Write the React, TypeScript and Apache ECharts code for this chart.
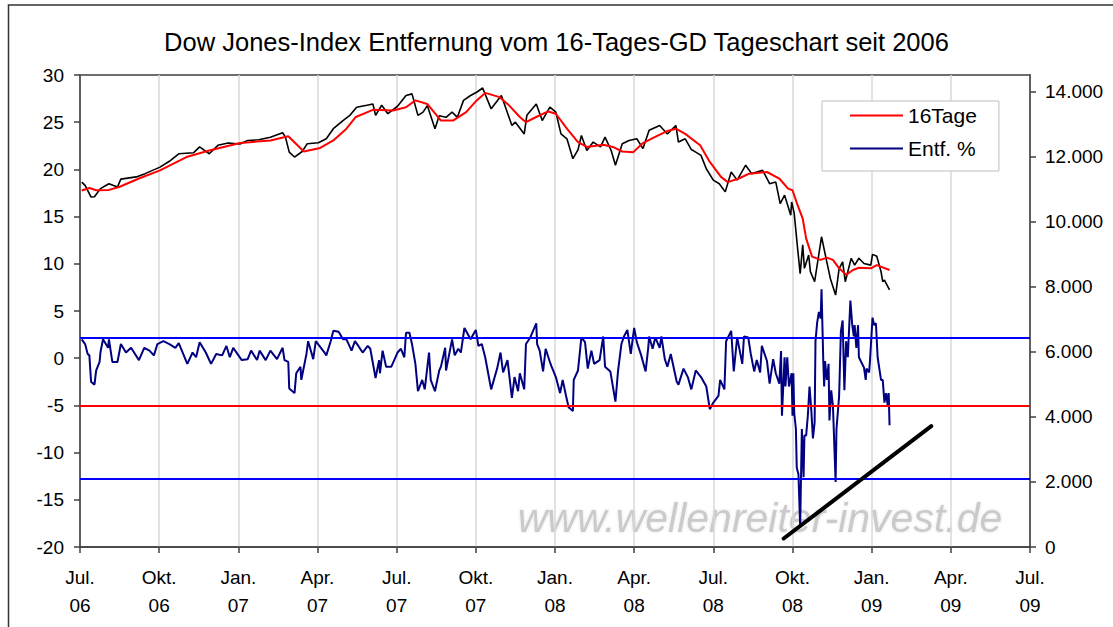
import React, { useEffect, useRef } from "react";
import * as echarts from "echarts";

const titleText = "Dow Jones-Index Entfernung vom 16-Tages-GD Tageschart seit 2006";
const watermarkText = "www.wellenreiter-invest.de";

const quarterLabels = [
  "Jul.\n06", "Okt.\n06", "Jan.\n07", "Apr.\n07", "Jul.\n07", "Okt.\n07", "Jan.\n08",
  "Apr.\n08", "Jul.\n08", "Okt.\n08", "Jan.\n09", "Apr.\n09", "Jul.\n09",
];

const rightTicks = [0, 2000, 4000, 6000, 8000, 10000, 12000, 14000];

// Dow Jones index (right axis)
const dowIndex: [string, number][] = [
  ["2006-07-03", 11210], ["2006-07-07", 11110], ["2006-07-14", 10750], ["2006-07-18", 10760],
  ["2006-07-25", 11010], ["2006-08-04", 11160], ["2006-08-14", 11060], ["2006-08-18", 11300],
  ["2006-09-05", 11370], ["2006-09-15", 11470], ["2006-10-02", 11670], ["2006-10-13", 11850],
  ["2006-10-24", 12080], ["2006-11-10", 12110], ["2006-11-17", 12290], ["2006-11-28", 12080],
  ["2006-12-08", 12340], ["2006-12-20", 12410], ["2007-01-03", 12380], ["2007-01-12", 12490],
  ["2007-01-25", 12510], ["2007-02-07", 12590], ["2007-02-20", 12725], ["2007-02-23", 12590],
  ["2007-02-27", 12130], ["2007-03-05", 11980], ["2007-03-14", 12150], ["2007-03-20", 12390],
  ["2007-04-02", 12420], ["2007-04-11", 12540], ["2007-04-19", 12850], ["2007-04-30", 13100],
  ["2007-05-08", 13260], ["2007-05-16", 13510], ["2007-05-28", 13570], ["2007-06-04", 13610],
  ["2007-06-07", 13260], ["2007-06-14", 13570], ["2007-06-21", 13310], ["2007-07-02", 13540],
  ["2007-07-12", 13870], ["2007-07-19", 13920], ["2007-07-26", 13260], ["2007-08-01", 13360],
  ["2007-08-06", 13560], ["2007-08-15", 12850], ["2007-08-20", 13250], ["2007-08-28", 13200],
  ["2007-09-04", 13360], ["2007-09-10", 13200], ["2007-09-17", 13720], ["2007-09-25", 13870],
  ["2007-10-02", 13970], ["2007-10-09", 14100], ["2007-10-19", 13460], ["2007-10-31", 13870],
  ["2007-11-12", 12950], ["2007-11-16", 13050], ["2007-11-26", 12690], ["2007-11-29", 13260],
  ["2007-12-10", 13610], ["2007-12-17", 13100], ["2007-12-26", 13510], ["2008-01-02", 13360],
  ["2008-01-08", 12690], ["2008-01-15", 12540], ["2008-01-22", 11930], ["2008-01-28", 12200],
  ["2008-02-01", 12640], ["2008-02-07", 12180], ["2008-02-14", 12440], ["2008-02-22", 12290],
  ["2008-02-27", 12590], ["2008-03-05", 12180], ["2008-03-10", 11730], ["2008-03-18", 12390],
  ["2008-03-26", 12490], ["2008-04-04", 12540], ["2008-04-11", 12240], ["2008-04-18", 12800],
  ["2008-04-30", 12950], ["2008-05-09", 12690], ["2008-05-19", 12950], ["2008-05-22", 12440],
  ["2008-05-30", 12540], ["2008-06-06", 12210], ["2008-06-11", 12130], ["2008-06-17", 12030],
  ["2008-06-23", 11620], ["2008-07-01", 11270], ["2008-07-08", 11160], ["2008-07-15", 10910],
  ["2008-07-22", 11520], ["2008-07-29", 11270], ["2008-08-08", 11730], ["2008-08-15", 11470],
  ["2008-08-28", 11570], ["2008-09-05", 11160], ["2008-09-12", 11210], ["2008-09-17", 10550],
  ["2008-09-22", 10810], ["2008-09-29", 10190], ["2008-09-30", 10600], ["2008-10-03", 10250],
  ["2008-10-07", 9170], ["2008-10-10", 8400], ["2008-10-13", 9280], ["2008-10-15", 8560],
  ["2008-10-20", 8970], ["2008-10-22", 8460], ["2008-10-27", 8150], ["2008-11-04", 9530],
  ["2008-11-10", 8760], ["2008-11-14", 8250], ["2008-11-20", 7740], ["2008-11-24", 8550],
  ["2008-11-28", 8760], ["2008-12-01", 8150], ["2008-12-08", 8870], ["2008-12-12", 8660],
  ["2008-12-17", 8870], ["2008-12-23", 8710], ["2008-12-31", 8660], ["2009-01-02", 8990],
  ["2009-01-07", 8930], ["2009-01-12", 8460], ["2009-01-14", 8150], ["2009-01-16", 8200],
  ["2009-01-22", 7900],
];

// 16-day moving average (right axis)
const ma16: [string, number][] = [
  ["2006-07-03", 10950], ["2006-07-12", 11030], ["2006-07-20", 10960], ["2006-08-04", 10970],
  ["2006-08-16", 11060], ["2006-09-08", 11320], ["2006-10-02", 11570], ["2006-11-02", 11980],
  ["2006-11-28", 12180], ["2007-01-03", 12410], ["2007-02-07", 12490], ["2007-02-26", 12620],
  ["2007-03-07", 12380], ["2007-03-16", 12150], ["2007-04-04", 12260], ["2007-04-19", 12490],
  ["2007-05-04", 12850], ["2007-05-15", 13210], ["2007-06-04", 13430], ["2007-06-27", 13410],
  ["2007-07-12", 13510], ["2007-07-23", 13720], ["2007-08-06", 13610], ["2007-08-22", 13100],
  ["2007-09-05", 13100], ["2007-09-20", 13360], ["2007-10-02", 13720], ["2007-10-12", 13950],
  ["2007-10-29", 13820], ["2007-11-09", 13560], ["2007-11-21", 13210], ["2007-11-28", 13050],
  ["2007-12-10", 13210], ["2007-12-24", 13380], ["2008-01-02", 13310], ["2008-01-15", 12850],
  ["2008-01-28", 12440], ["2008-02-07", 12290], ["2008-02-25", 12360], ["2008-03-07", 12290],
  ["2008-03-18", 12150], ["2008-03-31", 12130], ["2008-04-11", 12410], ["2008-04-22", 12560],
  ["2008-05-08", 12770], ["2008-05-19", 12850], ["2008-05-30", 12690], ["2008-06-16", 12340],
  ["2008-06-27", 11830], ["2008-07-10", 11370], ["2008-07-18", 11210], ["2008-07-31", 11320],
  ["2008-08-12", 11470], ["2008-09-02", 11520], ["2008-09-16", 11320], ["2008-09-26", 11010],
  ["2008-10-01", 10960], ["2008-10-07", 10500], ["2008-10-13", 10090], ["2008-10-17", 9480],
  ["2008-10-24", 8920], ["2008-11-03", 8820], ["2008-11-10", 8890], ["2008-11-17", 8820],
  ["2008-11-24", 8560], ["2008-12-02", 8360], ["2008-12-10", 8510], ["2008-12-17", 8580],
  ["2008-12-31", 8560], ["2009-01-07", 8660], ["2009-01-22", 8510],
];

// Distance from the 16-day average in % (left axis)
const distance: [string, number][] = [
  ["2006-07-03", 2.0], ["2006-07-07", 1.5], ["2006-07-10", 0.45], ["2006-07-12", 0.3],
  ["2006-07-14", -2.5], ["2006-07-18", -2.8], ["2006-07-20", -1.3], ["2006-07-24", -0.4],
  ["2006-07-25", 0.6], ["2006-07-28", 2.0], ["2006-08-03", 1.1], ["2006-08-04", 2.0],
  ["2006-08-08", -0.4], ["2006-08-14", -0.4], ["2006-08-18", 1.5], ["2006-08-24", 0.6],
  ["2006-08-30", 1.1], ["2006-09-08", -0.2], ["2006-09-14", 1.1], ["2006-09-20", 0.8],
  ["2006-09-25", 0.3], ["2006-09-29", 1.5], ["2006-10-06", 1.8], ["2006-10-13", 1.5],
  ["2006-10-20", 1.1], ["2006-10-24", 1.6], ["2006-11-03", -0.6], ["2006-11-09", 0.6],
  ["2006-11-13", 0.1], ["2006-11-17", 1.7], ["2006-11-24", 0.6], ["2006-11-30", -0.6],
  ["2006-12-06", 0.45], ["2006-12-13", 0.3], ["2006-12-18", 1.3], ["2006-12-22", 0.1],
  ["2006-12-26", 1.1], ["2007-01-05", -0.2], ["2007-01-12", -0.1], ["2007-01-16", 0.8],
  ["2007-01-23", -0.2], ["2007-01-26", 0.8], ["2007-02-02", -0.2], ["2007-02-07", 0.8],
  ["2007-02-14", -0.1], ["2007-02-20", 1.1], ["2007-02-22", -0.2], ["2007-02-26", -0.4],
  ["2007-02-27", -3.2], ["2007-03-05", -3.7], ["2007-03-07", -1.6], ["2007-03-12", -0.9],
  ["2007-03-13", -2.3], ["2007-03-19", 0.45], ["2007-03-21", 1.8], ["2007-03-27", -0.1],
  ["2007-03-30", 1.8], ["2007-04-09", 0.6], ["2007-04-11", 0.3], ["2007-04-16", 1.8],
  ["2007-04-19", 2.9], ["2007-04-25", 2.8], ["2007-04-30", 2.0], ["2007-05-04", 2.0],
  ["2007-05-10", 0.8], ["2007-05-14", 1.8], ["2007-05-18", 1.3], ["2007-05-23", 0.6],
  ["2007-05-29", 1.3], ["2007-06-01", 1.0], ["2007-06-07", -2.1], ["2007-06-11", -0.2],
  ["2007-06-12", -1.6], ["2007-06-15", 0.8], ["2007-06-19", -0.9], ["2007-06-25", -0.9],
  ["2007-07-02", 0.6], ["2007-07-06", 1.0], ["2007-07-10", 0.1], ["2007-07-12", 2.7],
  ["2007-07-16", 2.7], ["2007-07-19", 1.5], ["2007-07-23", -0.6], ["2007-07-26", -3.5],
  ["2007-07-31", -2.3], ["2007-08-03", -3.3], ["2007-08-08", 0.6], ["2007-08-10", -2.3],
  ["2007-08-15", -3.5], ["2007-08-20", -1.3], ["2007-08-22", -0.9], ["2007-08-27", 1.1],
  ["2007-08-28", -1.3], ["2007-09-04", 2.0], ["2007-09-07", 0.3], ["2007-09-11", 1.0],
  ["2007-09-14", 0.6], ["2007-09-18", 3.2], ["2007-09-21", 2.7], ["2007-09-25", 2.0],
  ["2007-09-28", 2.5], ["2007-10-01", 3.0], ["2007-10-04", 1.3], ["2007-10-08", 1.5],
  ["2007-10-12", 0.1], ["2007-10-19", -3.3], ["2007-10-26", -1.1], ["2007-10-30", 0.6],
  ["2007-11-02", -1.5], ["2007-11-07", -0.2], ["2007-11-12", -4.2], ["2007-11-15", -2.0],
  ["2007-11-19", -3.5], ["2007-11-21", -1.6], ["2007-11-26", -3.3], ["2007-11-28", 1.5],
  ["2007-12-03", 2.2], ["2007-12-10", 3.7], ["2007-12-11", 1.5], ["2007-12-14", 0.8],
  ["2007-12-18", -1.4], ["2007-12-21", 1.0], ["2007-12-26", -0.4], ["2007-12-28", -0.9],
  ["2008-01-02", -2.0], ["2008-01-07", -3.7], ["2008-01-10", -2.3], ["2008-01-14", -4.0],
  ["2008-01-17", -5.2], ["2008-01-22", -5.6], ["2008-01-23", -2.3], ["2008-01-28", -1.3],
  ["2008-02-01", 2.2], ["2008-02-05", 1.7], ["2008-02-08", -1.1], ["2008-02-12", 0.8],
  ["2008-02-15", -0.6], ["2008-02-21", -0.2], ["2008-02-25", 2.3], ["2008-02-27", -0.9],
  ["2008-03-04", -1.4], ["2008-03-10", -4.6], ["2008-03-13", -1.4], ["2008-03-17", 1.5],
  ["2008-03-20", 2.3], ["2008-03-24", 3.0], ["2008-03-28", 0.45], ["2008-04-01", 3.2],
  ["2008-04-04", 1.7], ["2008-04-09", 0.3], ["2008-04-14", -1.4], ["2008-04-17", 1.1],
  ["2008-04-18", 2.3], ["2008-04-22", 1.0], ["2008-04-25", 2.2], ["2008-04-30", 1.1],
  ["2008-05-02", 2.3], ["2008-05-06", -0.1], ["2008-05-09", -0.9], ["2008-05-13", 0.45],
  ["2008-05-20", -2.5], ["2008-05-22", -2.8], ["2008-05-28", -1.1], ["2008-06-02", -2.0],
  ["2008-06-06", -3.3], ["2008-06-11", -1.3], ["2008-06-17", -2.0], ["2008-06-23", -3.0],
  ["2008-06-27", -5.4], ["2008-07-01", -4.7], ["2008-07-07", -4.0], ["2008-07-09", -2.3],
  ["2008-07-14", -3.3], ["2008-07-16", 1.8], ["2008-07-22", 2.9], ["2008-07-25", -1.4],
  ["2008-07-29", 2.2], ["2008-08-04", -0.6], ["2008-08-06", 2.3], ["2008-08-11", 2.2],
  ["2008-08-14", 0.45], ["2008-08-18", -1.4], ["2008-08-21", -0.2], ["2008-08-25", -1.5],
  ["2008-08-27", 1.3], ["2008-09-02", -0.3], ["2008-09-05", -2.7], ["2008-09-09", -0.1],
  ["2008-09-12", -1.6], ["2008-09-16", -2.7], ["2008-09-18", 0.75], ["2008-09-19", -6.1],
  ["2008-09-22", 0.1], ["2008-09-23", -3.0], ["2008-09-25", 0.1], ["2008-09-27", -3.0],
  ["2008-09-30", -1.6], ["2008-10-01", -6.1], ["2008-10-02", -1.6], ["2008-10-03", -5.8],
  ["2008-10-05", -7.5], ["2008-10-06", -11.6], ["2008-10-08", -12.3], ["2008-10-10", -17.8],
  ["2008-10-12", -7.5], ["2008-10-14", -12.6], ["2008-10-15", -8.2], ["2008-10-17", -8.2],
  ["2008-10-19", -6.1], ["2008-10-21", -3.0], ["2008-10-23", -5.4], ["2008-10-25", -8.5],
  ["2008-10-27", -6.8], ["2008-10-28", 1.8], ["2008-10-30", 3.8], ["2008-11-01", 4.9],
  ["2008-11-03", 4.2], ["2008-11-04", 7.3], ["2008-11-06", -0.3], ["2008-11-07", -3.0],
  ["2008-11-08", -0.3], ["2008-11-10", -2.3], ["2008-11-12", -0.6], ["2008-11-13", -6.6],
  ["2008-11-15", -3.4], ["2008-11-17", -5.1], ["2008-11-20", -13.1], ["2008-11-21", -7.5],
  ["2008-11-24", -4.0], ["2008-11-26", 2.8], ["2008-11-28", 4.0], ["2008-11-30", -3.4],
  ["2008-12-02", 1.8], ["2008-12-04", 0.1], ["2008-12-07", 6.1], ["2008-12-09", 3.7],
  ["2008-12-11", 2.3], ["2008-12-12", 3.5], ["2008-12-14", 1.1], ["2008-12-16", 3.5],
  ["2008-12-17", 0.1], ["2008-12-20", -0.45], ["2008-12-23", -1.0], ["2008-12-25", -2.3],
  ["2008-12-26", -1.1], ["2008-12-29", -1.5], ["2008-12-30", -0.3], ["2009-01-02", 4.3],
  ["2009-01-04", 3.5], ["2009-01-06", 3.7], ["2009-01-08", 0.1], ["2009-01-12", -2.3],
  ["2009-01-14", -2.3], ["2009-01-16", -4.7], ["2009-01-18", -3.7], ["2009-01-20", -5.1],
  ["2009-01-21", -3.7], ["2009-01-22", -7.1],
];

// Hand-drawn support line (left axis)
const trendLine: [string, number][] = [["2008-09-21", -19.1], ["2009-03-09", -7.2]];

// Horizontal reference levels (left axis)
const upperBand = 2.2;
const middleBand = -5;
const lowerBand = -12.8;

// months since July 2006
function toMonths(d: string): number {
  const [y, m, day] = d.split("-").map(Number);
  const dim = new Date(y, m, 0).getDate();
  return (y - 2006) * 12 + (m - 7) + (day - 1) / dim;
}
const toXY = (arr: [string, number][]) => arr.map(([d, v]) => [toMonths(d), v]);

const FONT = "'Liberation Sans', Arial, sans-serif";
const LINE_ICON = "path://M0,0 L53,0 L53,2.2 L0,2.2 Z";

export default function App() {
  const ref = useRef<HTMLDivElement>(null);
  useEffect(() => {
    if (!ref.current) return;
    const chart = echarts.init(ref.current, null, { renderer: "svg" });
    const axisColor = "#404040";
    chart.setOption({
      animation: false,
      backgroundColor: "#ffffff",
      textStyle: { fontFamily: FONT },
      title: {
        text: titleText,
        left: "center",
        top: 24,
        textStyle: { fontSize: 25.5, fontWeight: "normal", color: "#000", fontFamily: FONT },
      },
      legend: {
        data: [
          { name: "16Tage", icon: LINE_ICON },
          { name: "Entf. %", icon: LINE_ICON },
        ],
        orient: "vertical",
        left: 822,
        top: 101,
        itemWidth: 53,
        itemHeight: 14,
        itemGap: 12,
        padding: [4, 22, 12, 28],
        backgroundColor: "#ffffff",
        borderColor: "#bfbfbf",
        borderWidth: 1,
        textStyle: { fontSize: 21, color: "#000", fontFamily: FONT },
      },
      grid: {
        left: 80,
        right: 83,
        top: 75,
        bottom: 80,
        show: true,
        borderColor: axisColor,
        borderWidth: 1.5,
        backgroundColor: "transparent",
      },
      graphic: [
        {
          type: "rect",
          shape: { x: 8.5, y: 5, width: 1200, height: 700 },
          style: { fill: "none", stroke: "#333", lineWidth: 1.5 },
          silent: true,
          z: 0,
        },
        {
          type: "text",
          x: 760,
          y: 518,
          z: 0,
          silent: true,
          style: {
            text: watermarkText,
            font: "italic 41px 'Liberation Sans', Arial, sans-serif",
            fill: "#cacaca",
            textAlign: "center",
            textVerticalAlign: "middle",
            textShadowColor: "rgba(0,0,0,0.12)",
            textShadowBlur: 3,
          },
        },
      ],
      xAxis: {
        type: "value",
        min: 0,
        max: 36,
        interval: 3,
        axisLine: { show: true, onZero: false, lineStyle: { color: axisColor, width: 1.5 } },
        axisTick: { show: true, length: 6, lineStyle: { color: axisColor, width: 1.5 } },
        axisLabel: {
          formatter: (v: number) => quarterLabels[Math.round(v / 3)] ?? "",
          fontSize: 19,
          lineHeight: 28,
          margin: 16,
          color: "#000",
          fontFamily: FONT,
          showMinLabel: true,
          showMaxLabel: true,
        },
        splitLine: { show: true, lineStyle: { color: "#d9d9d9", width: 1.5 } },
      },
      yAxis: [
        {
          type: "value",
          min: -20,
          max: 30,
          interval: 5,
          position: "left",
          axisLine: { show: true, onZero: false, lineStyle: { color: axisColor, width: 1.5 } },
          axisTick: { show: true, length: 6, lineStyle: { color: axisColor, width: 1.5 } },
          axisLabel: { fontSize: 19, margin: 16, color: "#000", fontFamily: FONT },
          splitLine: { show: false },
        },
        {
          type: "value",
          min: 0,
          max: 14500,
          interval: 2000,
          position: "right",
          axisLine: { show: true, onZero: false, lineStyle: { color: axisColor, width: 1.5 } },
          axisTick: {
            show: true,
            length: 6,
            customValues: rightTicks,
            lineStyle: { color: axisColor, width: 1.5 },
          },
          axisLabel: {
            customValues: rightTicks,
            fontSize: 19,
            margin: 15,
            color: "#000",
            fontFamily: FONT,
            formatter: (v: number) => (v === 0 ? "0" : `${Math.round(v / 1000)}.000`),
          },
          splitLine: { show: false },
        },
      ],
      series: [
        {
          name: "Dow",
          type: "line",
          yAxisIndex: 1,
          data: toXY(dowIndex),
          symbol: "none",
          lineStyle: { color: "#000000", width: 1.6 },
          itemStyle: { color: "#000000" },
          z: 3,
        },
        {
          name: "16Tage",
          type: "line",
          yAxisIndex: 1,
          data: toXY(ma16),
          symbol: "none",
          lineStyle: { color: "#ff0000", width: 2 },
          itemStyle: { color: "#ff0000" },
          z: 4,
        },
        {
          name: "Entf. %",
          type: "line",
          yAxisIndex: 0,
          data: toXY(distance),
          symbol: "none",
          lineStyle: { color: "#000080", width: 2 },
          itemStyle: { color: "#000080" },
          z: 4,
          markLine: {
            silent: true,
            symbol: ["none", "none"],
            label: { show: false },
            lineStyle: { type: "solid", width: 2 },
            data: [
              { yAxis: upperBand, lineStyle: { color: "#0000ff", type: "solid", width: 2 } },
              { yAxis: middleBand, lineStyle: { color: "#ff0000", type: "solid", width: 2 } },
              { yAxis: lowerBand, lineStyle: { color: "#0000ff", type: "solid", width: 2 } },
            ],
          },
        },
        {
          name: "Trend",
          type: "line",
          yAxisIndex: 0,
          data: toXY(trendLine),
          symbol: "none",
          lineStyle: { color: "#000000", width: 4, cap: "round" },
          itemStyle: { color: "#000000" },
          z: 5,
        },
      ],
    });
    return () => chart.dispose();
  }, []);
  return (
    <div
      ref={ref}
      style={{ position: "fixed", left: 0, top: 0, width: 1113, height: 627, background: "#fff" }}
    />
  );
}
